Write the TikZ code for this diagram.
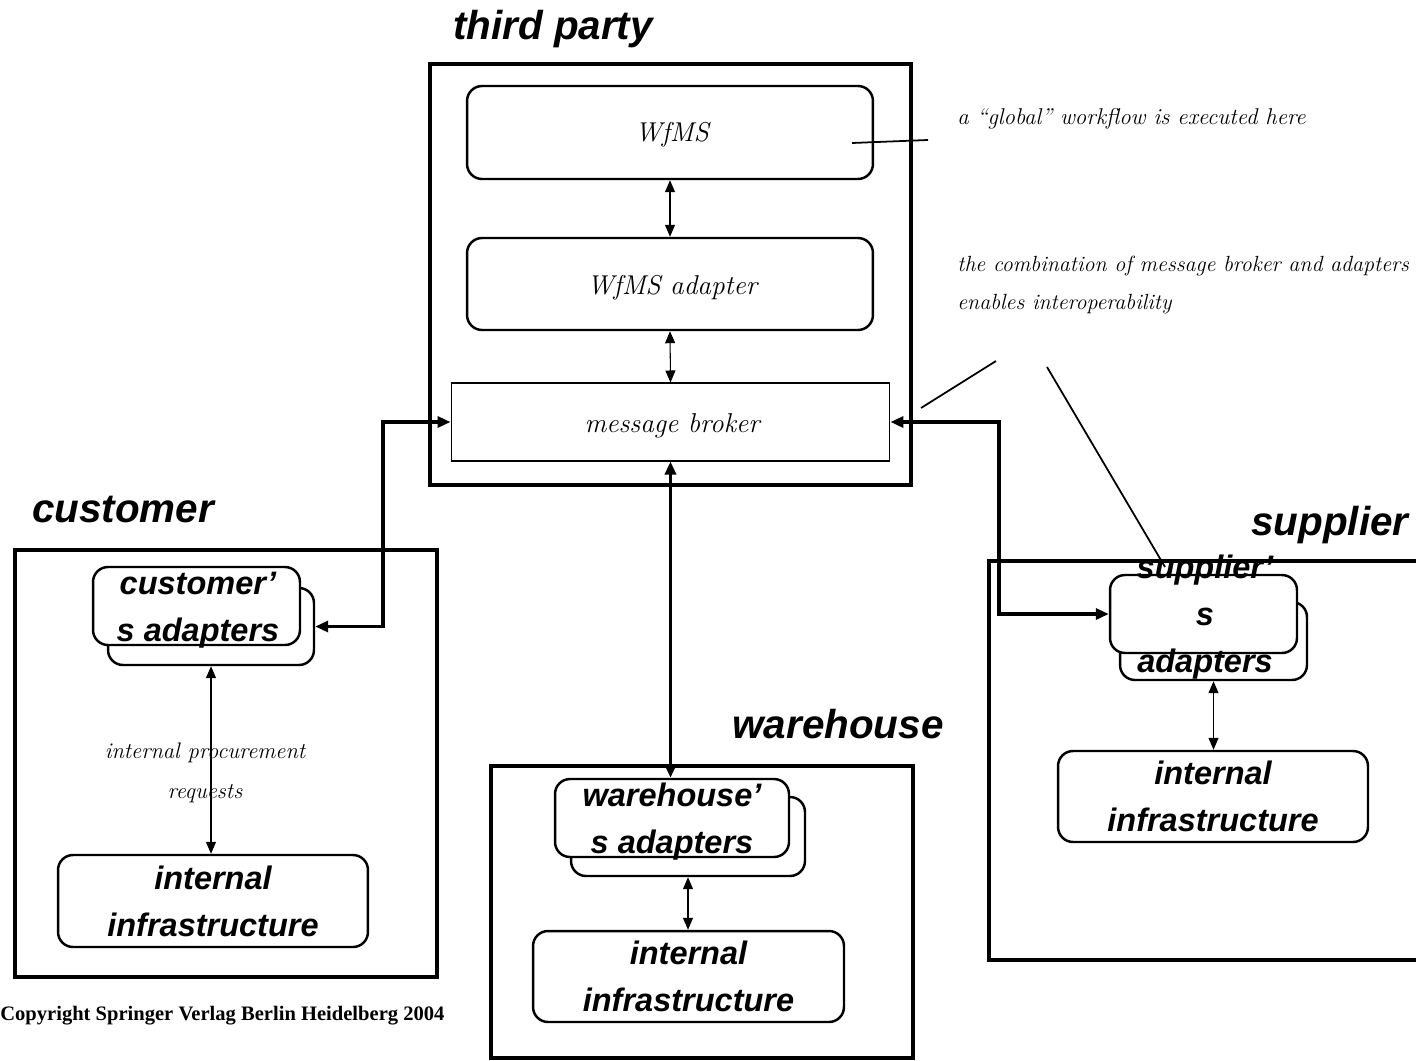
\documentclass[tikz,border=0pt]{standalone}
\usepackage{fontspec}
\setsansfont{Liberation Sans}
\newfontfamily\copyfont{Liberation Serif}
\usetikzlibrary{arrows.meta}

\begin{document}
\begin{tikzpicture}[x=0.02cm,y=-0.02cm,
  outerbox/.style={draw,line width=2pt,inner sep=0pt},
  roundbox/.style={draw,line width=1.4pt,rounded corners=0.3cm,fill=white,inner sep=0pt},
  plainbox/.style={draw,line width=0.6pt,fill=white,inner sep=0pt},
  heading/.style={inner sep=0pt,font=\sffamily\bfseries\itshape\fontsize{23}{28}\selectfont},
  boxtext/.style={inner sep=0pt,align=center,font=\sffamily\bfseries\itshape\fontsize{18.5}{26.7}\selectfont},
  boxitalic/.style={inner sep=0pt,font=\itshape\fontsize{15.5}{18}\selectfont},
  note/.style={inner sep=0pt,align=left,font=\itshape\fontsize{13}{22}\selectfont},
  thinlink/.style={line width=0.6pt,{Triangle[length=0.24cm,width=0.2cm]}-{Triangle[length=0.24cm,width=0.2cm]}},
  thicklink/.style={line width=1.9pt,{Triangle[length=0.26cm,width=0.22cm]}-{Triangle[length=0.26cm,width=0.22cm]}},
  pointer/.style={line width=1pt}
]
\useasboundingbox (0,0) rectangle (1416,1061);

% ---- third party ----
\node[heading] (tplabel) at (553,29) {third party};
\node[outerbox,minimum width=9.62cm,minimum height=8.42cm] (tp) at (670.5,274.5) {};
\node[roundbox,minimum width=8.12cm,minimum height=1.86cm] (wfms) at (670,132.5) {};
\node[boxitalic] (wfmstext) at (672,135) {WfMS};
\node[roundbox,minimum width=8.12cm,minimum height=1.84cm] (wfmsad) at (670,284) {};
\node[boxitalic] (wfmsadtext) at (672,288) {WfMS adapter};
\node[plainbox,minimum width=8.78cm,minimum height=1.56cm] (broker) at (670.5,422) {};
\node[boxitalic] (brokertext) at (672,426) {message broker};

% ---- customer ----
\node[heading] (custlabel) at (123,510) {customer};
\node[outerbox,minimum width=8.44cm,minimum height=8.54cm] (cust) at (226,763.5) {};
\node[roundbox,minimum width=4.12cm,minimum height=1.54cm] (cback) at (211,626.5) {};
\node[roundbox,minimum width=4.14cm,minimum height=1.56cm] (cfront) at (196.5,606) {};
\node[boxtext] (ctext) at (198,610) {customer’\\s adapters};
\node[roundbox,minimum width=6.2cm,minimum height=1.84cm,boxtext] (cinfra) at (213,901) {internal\\infrastructure};

% ---- warehouse ----
\node[heading] (whlabel) at (838,724) {warehouse};
\node[outerbox,minimum width=8.44cm,minimum height=5.84cm] (wh) at (702,912) {};
\node[roundbox,minimum width=4.68cm,minimum height=1.58cm] (whback) at (688,836.5) {};
\node[roundbox,minimum width=4.68cm,minimum height=1.56cm] (whfront) at (672,818) {};
\node[boxtext] (whtext) at (672,822) {warehouse’\\s adapters};
\node[roundbox,minimum width=6.22cm,minimum height=1.82cm,boxtext] (whinfra) at (688.5,976.5) {internal\\infrastructure};

% ---- supplier (box runs off the right edge) ----
\node[heading] (suplabel) at (1330,525) {supplier};
\coordinate (stl) at (1420,561);
\coordinate (sbl) at (1420,960);
\draw[line width=2pt] (stl) -- (989,561) -- (989,960) -- (sbl);
\node[roundbox,minimum width=3.74cm,minimum height=1.56cm] (supback) at (1213.5,641) {};
\node[roundbox,minimum width=3.74cm,minimum height=1.56cm] (supfront) at (1203.5,614) {};
\node[boxtext] (suptext) at (1205,617) {supplier’\\s\\adapters};
\node[roundbox,minimum width=6.2cm,minimum height=1.82cm,boxtext] (supinfra) at (1213,796.5) {internal\\infrastructure};

% ---- connectors ----
\draw[thinlink] (wfms.south) -- (wfmsad.north);
\draw[thinlink] (wfmsad.south) -- (broker.north);
\coordinate (cjog) at (383,500);
\coordinate (sjog) at (999,500);
\draw[thicklink] (broker.west) -| (cjog) |- (cback.east);
\draw[thicklink] (broker.east) -| (sjog) |- (supfront.west);
\draw[thicklink] (broker.south) -- (broker.south |- whfront.north);
\draw[thinlink] (cback.south) -- (cback.south |- cinfra.north);
\draw[thinlink] (whback.south) -- (whback.south |- whinfra.north);
\draw[thinlink] (supback.south) -- (supback.south |- supinfra.north);

\node[inner sep=0pt,align=center,font=\itshape\fontsize{12.8}{22.7}\selectfont] (proc) at (205,773) {internal procurement\\requests};

% ---- annotations ----
\node[note,anchor=west] (note1) at (957,119) {a “global” workflow is executed here};
\node[note,anchor=west,font=\itshape\fontsize{12.5}{22}\selectfont] (note2) at (957,285) {the combination of message broker and adapters\\enables interoperability};
\coordinate (p1a) at (852,143);
\coordinate (p1b) at (928,140);
\draw[pointer] (p1a) -- (p1b);
\coordinate (p2a) at (921,408);
\coordinate (p2b) at (996,361);
\draw[pointer] (p2a) -- (p2b);
\coordinate (p3a) at (1047,367);
\coordinate (p3b) at (1165,567);
\draw[pointer] (p3a) -- (p3b);

\node[anchor=west,inner sep=0pt,font=\copyfont\bfseries\fontsize{11.7}{14}\selectfont] (copy) at (0,1016) {Copyright Springer Verlag Berlin Heidelberg 2004};
\end{tikzpicture}
\end{document}
